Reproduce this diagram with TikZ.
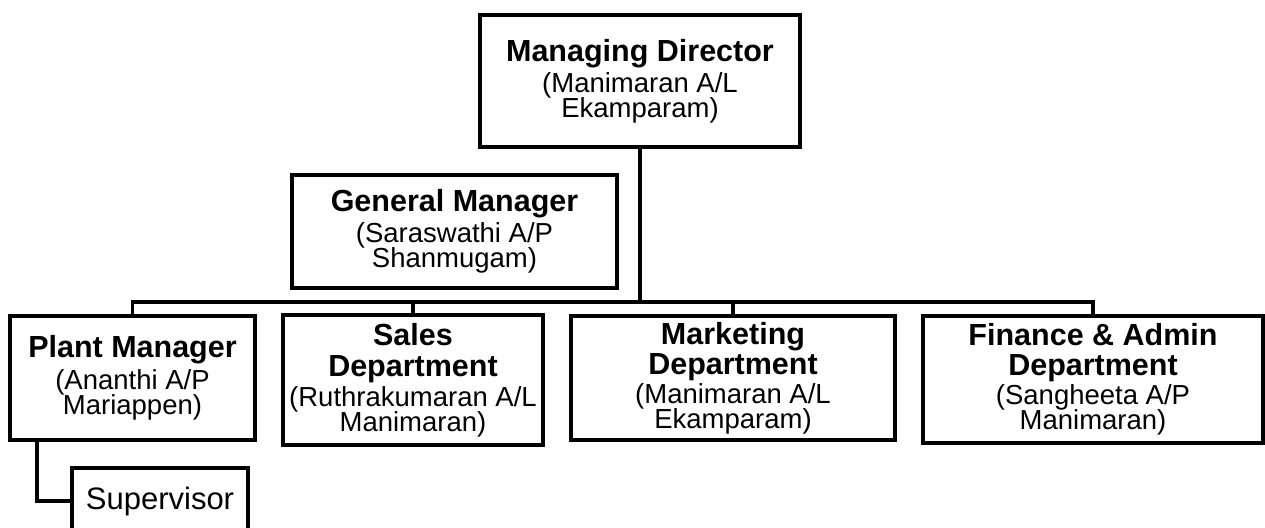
\documentclass[tikz,border=0pt]{standalone}
\usepackage{fontspec}
\setmainfont{Liberation Sans}
\AtBeginDocument{\normallineskiplimit=-30pt\relax\lineskiplimit=-30pt\relax}
\begin{document}
\begin{tikzpicture}[x=1pt,y=-1pt,
  box/.style={draw=black,line width=3.5pt,fill=white,rectangle,align=center,inner sep=0pt,
    font=\fontsize{27.5}{25}\selectfont},
  link/.style={draw=black,line width=3.5pt}]
\newcommand{\hd}[1]{{\fontsize{30.5}{25}\selectfont\bfseries #1}}
\clip (0,0) rectangle (1265,527);
\useasboundingbox (0,0) rectangle (1265,527);
\node[box,minimum width=320pt,minimum height=132pt] (md) at (640,81)
  {\hd{Managing Director}\\[6pt](Manimaran A/L\\Ekamparam)};
\node[box,minimum width=325pt,minimum height=113pt] (gm) at (454.5,231.5)
  {\hd{General Manager}\\[6pt](Saraswathi A/P\\Shanmugam)};
\node[box,minimum width=245pt,minimum height=124pt] (plant) at (132.5,378)
  {\hd{Plant Manager}\\[7pt](Ananthi A/P\\Mariappen)};
\node[box,minimum width=260pt,minimum height=130pt] (sales) at (413,380)
  {\hd{Sales}\\[6pt]\hd{Department}\\[5pt](Ruthrakumaran A/L\\Manimaran)};
\node[box,minimum width=324pt,minimum height=124pt] (mkt) at (733,378)
  {\hd{Marketing}\\[5pt]\hd{Department}\\[4pt](Manimaran A/L\\Ekamparam)};
\node[box,minimum width=340pt,minimum height=127pt] (fin) at (1093,379.5)
  {\hd{Finance \& Admin}\\[5pt]\hd{Department}\\[4pt](Sangheeta A/P\\Manimaran)};
\node[box,minimum width=176pt,minimum height=66pt,font=\fontsize{31}{30}\selectfont] (sup) at (160,501)
  {Supervisor};
\coordinate (bus) at (640,302);
\draw[link] (md.south) -- (bus);
\draw[link] (plant.north) |- (bus) -| (fin.north);
\draw[link] (sales.north) -- (sales.north |- bus);
\draw[link] (mkt.north) -- (mkt.north |- bus);
\draw[link] ([xshift=-95.5pt]plant.south) |- (sup.west);
\end{tikzpicture}
\end{document}
